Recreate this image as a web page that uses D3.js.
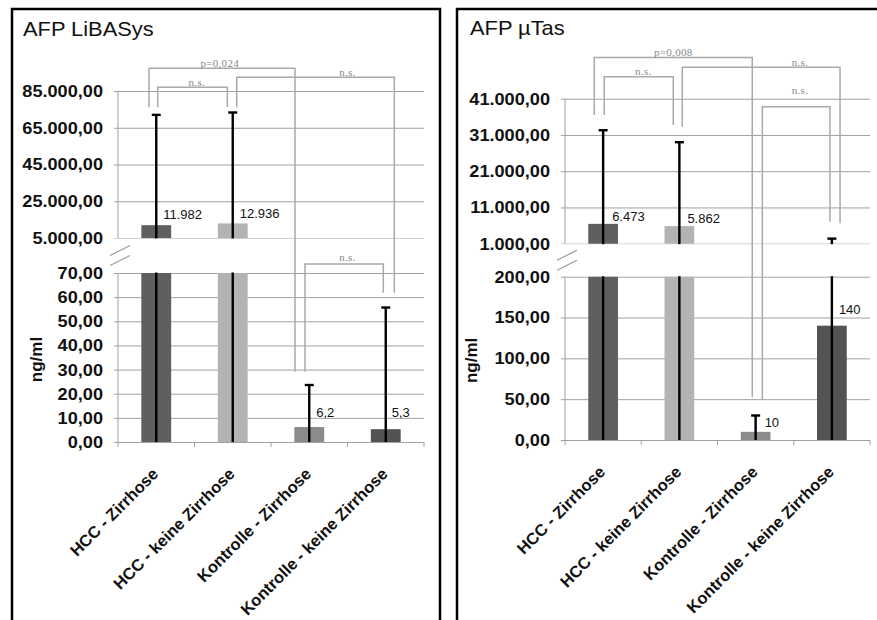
<!DOCTYPE html>
<html><head><meta charset="utf-8">
<script src="https://cdn.jsdelivr.net/npm/d3@7"></script>
<style>html,body{margin:0;padding:0;background:#fff}svg{display:block}</style>
</head><body>
<script>
// ---------- data ----------
const categories = ["HCC - Zirrhose", "HCC - keine Zirrhose", "Kontrolle - Zirrhose", "Kontrolle - keine Zirrhose"];

const libasysTitle = "AFP LiBASys";
const libasysValues = [11982, 12936, 6.2, 5.3];
const libasysErrorTops = [72000, 73300, 23.6, 55.7];
const libasysLabels = ["11.982", "12.936", "6,2", "5,3"];
const libasysUpperTicks = [5000, 25000, 45000, 65000, 85000];
const libasysLowerTicks = [0, 10, 20, 30, 40, 50, 60, 70];
// brackets: from category (fractional index), to category, label, top value, left leg end value, right leg end value, label x (category idx), label value
const libasysBrackets = [
  [-0.095, 1.814, "p=0,024", 97400, 76100, 29.1, 0.83, 100240],
  [0.019, 0.929, "n.s.", 87000, 76100, 76100, 0.53, 89900],
  [1.052, 3.112, "n.s.", 92450, 76100, 61.8, 2.50, 95500],
  [1.944, 2.968, "n.s.", 73.7, 29.1, 61.8, 2.50, 76.6]
];

const utasTitle = "AFP µTas";
const utasValues = [6473, 5862, 10, 140];
const utasErrorTops = [32300, 29000, 30, 2400];
const utasLabels = ["6.473", "5.862", "10", "140"];
const utasUpperTicks = [1000, 11000, 21000, 31000, 41000];
const utasLowerTicks = [0, 50, 100, 150, 200];
const utasBrackets = [
  [-0.116, 1.956, "p=0,008", 52400, 36500, 53, 0.92, 53970],
  [0.015, 0.920, "n.s.", 47070, 36500, 33745, 0.527, 48640],
  [1.038, 3.107, "n.s.", 49660, 33276, 6630, 2.582, 51200],
  [2.088, 2.975, "n.s.", 38790, 49, 7070, 2.582, 43400]
];

const yAxisTitle = "ng/ml";
const barColors = ["#5f5f5f", "#b3b3b3", "#8b8b8b", "#535353"];

// ---------- layout ----------
const W = 877, H = 620;
const svg = d3.select("body").append("svg").attr("width", W).attr("height", H);
svg.append("rect").attr("width", W).attr("height", H).attr("fill", "#fff");

const fmt = d3.formatLocale({decimal: ",", thousands: ".", grouping: [3], currency: ["", ""]}).format(",.2f");

const panels = [
  {title: libasysTitle, values: libasysValues, errs: libasysErrorTops, labels: libasysLabels,
   upperTicks: libasysUpperTicks, lowerTicks: libasysLowerTicks, brackets: libasysBrackets,
   frame: [12, 9, 428], x0: 118, x1: 424, upperRange: [238, 91], lowerRange: [442, 273],
   tickX: 103, yLabX: 42, titleX: 23, titleY: 36,
   labDx: [7, 7, 7, 6], labDy: [-6, -5, -10, -12]},
  {title: utasTitle, values: utasValues, errs: utasErrorTops, labels: utasLabels,
   upperTicks: utasUpperTicks, lowerTicks: utasLowerTicks, brackets: utasBrackets,
   frame: [457, 9, 440], x0: 565, x1: 870, upperRange: [243.7, 98.7], lowerRange: [440, 276.7],
   tickX: 550, yLabX: 477, titleX: 470, titleY: 35,
   labDx: [9, 8, 9, 7], labDy: [-3, -3, -5, -12]}
];

const gridColor = "#a0a0a0", bracketColor = "#a9a9a9";
const font = "Arial, 'Liberation Sans', sans-serif";

panels.forEach(p => {
  const g = svg.append("g");
  // frame
  g.append("rect").attr("x", p.frame[0]).attr("y", p.frame[1]).attr("width", p.frame[2]).attr("height", 700)
    .attr("fill", "none").attr("stroke", "#000").attr("stroke-width", 2.5);
  // title
  g.append("text").attr("transform", `translate(${p.titleX},${p.titleY}) scale(1.04,1)`)
    .attr("font-family", font).attr("font-size", 21).attr("fill", "#111").text(p.title);

  const x = d3.scaleBand().domain(categories).range([p.x0, p.x1]).paddingInner(0).paddingOuter(0);
  const bw = x.bandwidth();
  const cx = i => p.x0 + (i + 0.5) * bw;
  const upper = d3.scaleLinear().domain([p.upperTicks[0], p.upperTicks[p.upperTicks.length - 1]]).range(p.upperRange);
  const lower = d3.scaleLinear().domain([p.lowerTicks[0], p.lowerTicks[p.lowerTicks.length - 1]]).range(p.lowerRange);
  const yPos = v => v < p.upperTicks[0] ? lower(v) : upper(v);
  const gapTop = p.upperRange[0], gapBot = p.lowerRange[1];

  // gridlines (upper & lower)
  const gridU = d3.axisLeft(upper).tickValues(p.upperTicks).tickSize(-(p.x1 - p.x0) - 4).tickFormat("");
  const gridL = d3.axisLeft(lower).tickValues(p.lowerTicks).tickSize(-(p.x1 - p.x0) - 4).tickFormat("");
  [gridU, gridL].forEach(ax => {
    const ga = g.append("g").attr("transform", `translate(${p.x0 - 4},0)`).call(ax);
    ga.select(".domain").remove();
    ga.selectAll("line").attr("stroke", gridColor).attr("stroke-width", 1);
  });
  // y axis lines
  g.append("line").attr("x1", p.x0).attr("x2", p.x0).attr("y1", upper.range()[1]).attr("y2", gapTop).attr("stroke", gridColor);
  g.append("line").attr("x1", p.x0).attr("x2", p.x0).attr("y1", gapBot).attr("y2", p.lowerRange[0]).attr("stroke", gridColor);
  // x axis category tick marks
  d3.range(categories.length + 1).forEach(i => g.append("line").attr("x1", p.x0 + i * bw).attr("x2", p.x0 + i * bw)
    .attr("y1", p.lowerRange[0]).attr("y2", p.lowerRange[0] + 5).attr("stroke", gridColor));

  // tick labels
  const tickText = (t, y) => g.append("text")
    .attr("transform", `translate(${p.tickX},${y}) scale(1.1,1)`).attr("dy", "0.36em")
    .attr("text-anchor", "end").attr("font-family", font).attr("font-weight", "bold").attr("font-size", 16.5)
    .attr("fill", "#111").text(fmt(t));
  p.upperTicks.forEach(t => tickText(t, upper(t)));
  p.lowerTicks.forEach(t => tickText(t, lower(t)));

  // y axis title
  g.append("text").attr("transform", `translate(${p.yLabX},${(p.lowerRange[0] + p.lowerRange[1]) / 2 + 2}) rotate(-90)`)
    .attr("text-anchor", "middle").attr("font-family", font).attr("font-weight", "bold").attr("font-size", 17)
    .attr("fill", "#111").text(yAxisTitle);

  // bars
  const barW = bw * 0.39;
  p.values.forEach((v, i) => {
    const c = x(categories[i]) + bw / 2;
    const lv = Math.min(v, lower.domain()[1]);
    g.append("rect").attr("x", c - barW / 2).attr("width", barW)
      .attr("y", lower(lv)).attr("height", lower(0) - lower(lv)).attr("fill", barColors[i]);
    if (v > upper.domain()[0]) {
      g.append("rect").attr("x", c - barW / 2).attr("width", barW)
        .attr("y", upper(v)).attr("height", upper(upper.domain()[0]) - upper(v)).attr("fill", barColors[i]);
    }
  });
  // error bars
  p.errs.forEach((e, i) => {
    const c = x(categories[i]) + bw / 2;
    g.append("line").attr("x1", c).attr("x2", c).attr("y1", lower(0)).attr("y2", yPos(e))
      .attr("stroke", "#000").attr("stroke-width", 2.4);
    g.append("line").attr("x1", c - 4.5).attr("x2", c + 4.5).attr("y1", yPos(e)).attr("y2", yPos(e))
      .attr("stroke", "#000").attr("stroke-width", 2.4);
  });
  // axis break gap
  g.append("rect").attr("x", p.x0 - 6).attr("y", gapTop + 0.5).attr("width", p.x1 - p.x0 + 8)
    .attr("height", gapBot - gapTop - 1).attr("fill", "#fff");
  const mid = (gapTop + gapBot) / 2;
  [-5, 5].forEach(d => g.append("line").attr("x1", p.x0 - 8).attr("y1", mid + d + 5)
    .attr("x2", p.x0 + 12).attr("y2", mid + d - 5).attr("stroke", "#999").attr("stroke-width", 1.2));

  // value labels
  p.values.forEach((v, i) => {
    const c = x(categories[i]) + bw / 2;
    g.append("text").attr("x", c + p.labDx[i]).attr("y", yPos(v) + p.labDy[i])
      .attr("font-family", font).attr("font-size", 13).attr("fill", "#111").text(p.labels[i]);
  });

  // significance brackets
  p.brackets.forEach(b => {
    const [fa, fb, lab, top, la, lb, lx, lv] = b;
    const path = d3.path();
    path.moveTo(cx(fa), yPos(la));
    path.lineTo(cx(fa), yPos(top));
    path.lineTo(cx(fb), yPos(top));
    path.lineTo(cx(fb), yPos(lb));
    g.append("path").attr("d", path.toString()).attr("fill", "none")
      .attr("stroke", bracketColor).attr("stroke-width", 1.5);
    g.append("text").attr("x", cx(lx)).attr("y", yPos(lv)).attr("dy", "0.35em").attr("text-anchor", "middle")
      .attr("font-family", "'Liberation Serif', 'Times New Roman', serif").attr("font-size", 11)
      .attr("letter-spacing", 0.3).attr("fill", "#888").text(lab);
  });

  // category labels
  categories.forEach((c, i) => {
    g.append("text").attr("transform", `translate(${x(c) + bw / 2 + 3},${p.lowerRange[0] + 33}) rotate(-45)`)
      .attr("text-anchor", "end").attr("font-family", font).attr("font-weight", "bold").attr("font-size", 16.5)
      .attr("fill", "#111").text(c);
  });
});
</script>
</body></html>
